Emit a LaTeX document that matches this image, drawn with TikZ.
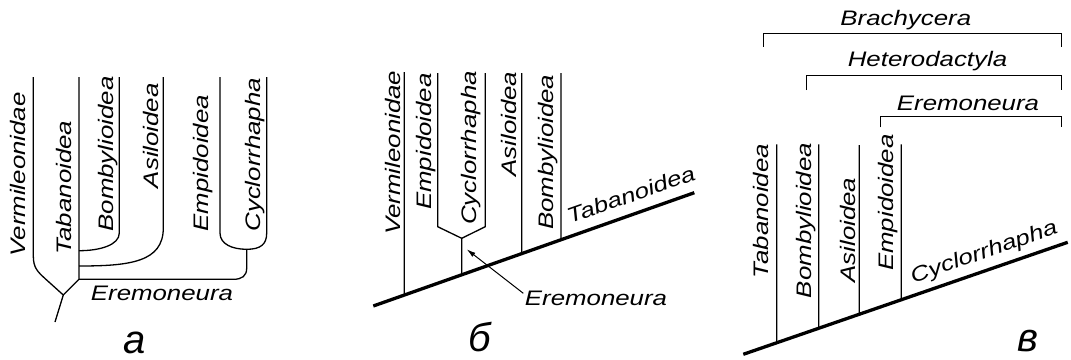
\documentclass[tikz,border=0pt]{standalone}
\usepackage{fontspec}
\setmainfont{Liberation Sans}
\newfontfamily\labfont[FakeStretch=1.23]{Liberation Sans}
\usetikzlibrary{arrows.meta}
\begin{document}
\begin{tikzpicture}[x=1pt,y=-1pt,
  br/.style={line width=1.3pt},
  basel/.style={line width=3.3pt},
  brk/.style={line width=1pt},
  lab/.style={inner sep=0pt, font=\labfont\itshape\fontsize{21}{24}\selectfont},
  vlab/.style={lab, rotate=90, anchor=base west},
  hlab/.style={lab, anchor=base},
  slab/.style={lab, anchor=base west},
  big/.style={inner sep=0pt, anchor=base, text depth=0pt, text height=22pt, font=\itshape\fontsize{40}{44}\selectfont},
  arr/.style={line width=1pt, -{Latex[length=9pt,width=5pt]}}]
\useasboundingbox (0,0) rectangle (1071,359);
\fill[white] (0,0) rectangle (1071,359);

% ---------- panel a ----------
\coordinate (aV1) at (33.3,77);
\coordinate (aT1) at (79,77);
\coordinate (aT2) at (79,279.3);
\coordinate (aR) at (63.3,295);
\coordinate (aRoot) at (55,322);
\coordinate (aB1) at (119.3,77);
\coordinate (aB2) at (79,250.7);
\coordinate (aA1) at (163.3,77);
\coordinate (aA2) at (79,266);
\coordinate (aE1) at (220,77);
\coordinate (aC1) at (266.7,77);
\coordinate (aU) at (246.7,249.3);
\draw[br] (aV1) -- (33.3,256) .. controls (33.3,268) and (38,272) .. (45,278.5) -- (aR);
\draw[br] (aT1) -- (aT2) -- (aR);
\draw[br] (aR) -- (aRoot);
\draw[br] (aB1) -- (119.3,233) .. controls (119.3,245) and (100,250.7) .. (aB2);
\draw[br] (aA1) -- (163.3,228) .. controls (163.3,262) and (130,266) .. (aA2);
\draw[br] (aE1) -- (220,233) .. controls (220,244) and (232,249.3) .. (aU)
  .. controls (261,249.3) and (266.7,244) .. (266.7,233) -- (aC1);
\draw[br] (aU) -- (246.7,268) .. controls (246.7,276) and (242,279.3) .. (233.3,279.3) -- (aT2);

\node[vlab] (aLV) at (25,256.7) {Vermileonidae};
\node[vlab] (aLT) at (71.7,255) {Tabanoidea};
\node[vlab] (aLB) at (113.3,231.7) {Bombylioidea};
\node[vlab] (aLA) at (158.3,188.3) {Asiloidea};
\node[vlab] (aLE) at (208.3,231.7) {Empidoidea};
\node[vlab] (aLC) at (260,231.7) {Cyclorrhapha};
\node[hlab] (aLEr) at (162,300.7) {Eremoneura};
\node[big] (aLbl) at (134.7,353) {а};

% ---------- panel b ----------
\coordinate (bA) at (373.3,306);
\coordinate (bB) at (694.3,192.7);
\draw[basel] (bA) -- (bB);
\coordinate (bV1) at (404.3,72);   \coordinate (bVx) at (404.3,400);
\coordinate (bE1) at (437.7,73);
\coordinate (bC1) at (485.3,73);
\coordinate (bJ) at (461.7,238.3); \coordinate (bJx) at (461.7,400);
\coordinate (bA1) at (521.7,73);   \coordinate (bAx) at (521.7,400);
\coordinate (bB1) at (561,73);     \coordinate (bBx) at (561,400);
\draw[br] (bV1) -- (intersection of bA--bB and bV1--bVx);
\draw[br] (bE1) -- (437.7,226.7) -- (bJ) -- (485.3,226.7) -- (bC1);
\draw[br] (bJ) -- (intersection of bA--bB and bJ--bJx);
\draw[br] (bA1) -- (intersection of bA--bB and bA1--bAx);
\draw[br] (bB1) -- (intersection of bA--bB and bB1--bBx);
\coordinate (bArT) at (523.3,293.3);
\coordinate (bArH) at (466.7,249.3);
\draw[arr] (bArT) -- (bArH);

\node[vlab] (bLV) at (400,235) {Vermileonidae};
\node[vlab] (bLE) at (431.7,210) {Empidoidea};
\node[vlab] (bLC) at (476.7,225) {Cyclorrhapha};
\node[vlab] (bLA) at (516.7,176.7) {Asiloidea};
\node[vlab] (bLB) at (553.3,230) {Bombylioidea};
\node[slab, rotate=19.4] (bLT) at (570,224) {Tabanoidea};
\node[hlab] (bLEr) at (596,305) {Eremoneura};
\node[big] (bLbl) at (480,351.7) {б};

% ---------- panel c ----------
\coordinate (cA) at (743.3,354.3);
\coordinate (cB) at (1067.7,242.3);
\draw[basel] (cA) -- (cB);
\coordinate (cT1) at (776.7,144.3); \coordinate (cTx) at (776.7,400);
\coordinate (cB1) at (818.7,144.3); \coordinate (cBx) at (818.7,400);
\coordinate (cA1) at (859.3,145);   \coordinate (cAx) at (859.3,400);
\coordinate (cE1) at (901.3,144.3); \coordinate (cEx) at (901.3,400);
\draw[br] (cT1) -- (intersection of cA--cB and cT1--cTx);
\draw[br] (cB1) -- (intersection of cA--cB and cB1--cBx);
\draw[br] (cA1) -- (intersection of cA--cB and cA1--cAx);
\draw[br] (cE1) -- (intersection of cA--cB and cE1--cEx);

\node[vlab] (cLT) at (768.3,278.3) {Tabanoidea};
\node[vlab] (cLB) at (811.7,298.3) {Bombylioidea};
\node[vlab] (cLA) at (855,282.7) {Asiloidea};
\node[vlab] (cLE) at (893.3,271) {Empidoidea};
\node[slab, rotate=19.05] (cLC) at (913.3,283.3) {Cyclorrhapha};

% brackets
\coordinate (k1l) at (763.3,46.7); \coordinate (k1r) at (1061,46.7);
\coordinate (k2l) at (806,90);     \coordinate (k2r) at (1061,90);
\coordinate (k3l) at (880.7,127.3);\coordinate (k3r) at (1061,127.3);
\draw[brk] (k1l) -- (763.3,33.3) -- (1061,33.3) -- (k1r);
\draw[brk] (k2l) -- (806,75) -- (1061,75) -- (k2r);
\draw[brk] (k3l) -- (880.7,116) -- (1061,116) -- (k3r);
\node[hlab] (cLBr) at (905.8,25) {Brachycera};
\node[hlab] (cLHe) at (927.5,66.7) {Heterodactyla};
\node[hlab] (cLEr) at (968,110) {Eremoneura};
\node[big] (cLbl) at (1028.3,351.7) {в};
\end{tikzpicture}
\end{document}
